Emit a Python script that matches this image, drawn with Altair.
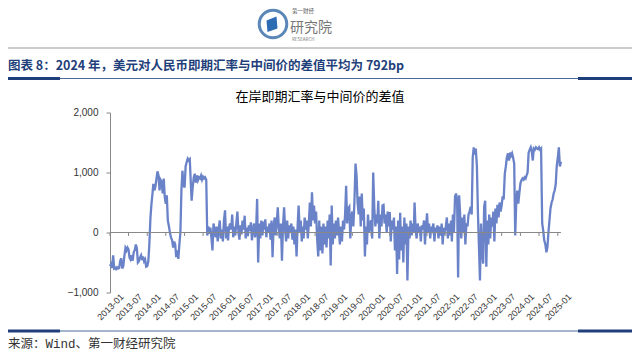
import altair as alt
import pandas as pd

# ---- data (~3 points per month: day 1, 11, 21) ----
v2013 = [-560, -530, -590, -380, -600, -590, -610, -580, -600, -590, -470, -430,
         -600, -560, -400, -260, -300, -250, -280, -420, -450, -380, -470, -330,
         -290, -200, -260, -500, -480, -420, -380, -460, -400, -480, -450, -570]
v2014 = [-560, -480, -200, 250, 480, 650, 810, 700, 760, 900, 1020, 950,
         700, 880, 850, 650, 900, 590, 480, 620, 200, 100, -10, -80,
         -130, -250, -150, -200, -410, -300, -440, -200, 0, 700, 1030, 800]
v2015 = [750, 1100, 1170, 1230, 1200, 1220, 900, 530, 750, 920, 980, 830,
         950, 870, 920, 900, 950, 880, 930, 900, 920, 880, -50, 100,
         -20, 80, -100, -300, 150, 50, -80, 100, -150, 50, 200, -100]
v2016 = [50, -150, 200, 370, -100, 100, -130, 80, 150, 50, 300, -80,
         100, -50, 150, 350, 0, -120, 120, -30, 200, 50, 280, -100,
         80, -60, 120, 30, 170, -130, 60, 150, -80, 50, 560, -500]
v2017 = [150, -100, 200, -50, 180, 50, 220, -80, 100, 0, 150, -120,
         200, -410, 100, 250, -50, 150, 420, 80, -100, 150, -470, 100,
         420, 50, -150, 200, -100, 120, 0, 150, -120, 100, -200, 50]
v2018 = [-400, 100, 450, 0, 200, -150, 100, -100, 250, 50, 200, -100,
         150, 500, 100, 670, 200, 450, 150, 350, -100, -400, 200, -300,
         100, -350, 150, -200, 100, -250, 200, -100, 300, -550, 450, -200]
v2019 = [150, -100, 200, -50, 250, 0, -200, 100, -150, 200, 50, 300,
         780, 150, 400, 430, -100, 250, 350, 100, 500, 1150, 950, 500,
         300, 600, 100, 650, 200, 400, -400, 100, -200, 300, 0, 150]
v2020 = [200, -100, 1000, 400, 100, 300, 150, 530, -100, 300, 100, 450,
         460, 150, 300, 0, 350, 100, 340, -150, 200, 50, 250, -300,
         100, -690, 200, -450, 330, -300, 100, -500, 250, -200, 150, -800]
v2021 = [100, -100, 200, -50, 150, 0, 500, 50, -100, 150, 0, 100,
         -150, 120, 50, 200, -200, 100, 320, 0, 150, -100, 100, 50,
         150, -150, 80, 0, 120, -100, 100, -50, 150, -200, 80, 20]
v2022 = [100, 250, -100, 150, -50, 200, -150, 300, 0, 600, 650, 550,
         -750, 620, 300, -100, 250, 0, 300, -200, 150, 100, 300, 350,
         430, 300, 1250, 1420, 1300, 1400, 1100, 330, -230, -800, 150, -300]
v2023 = [-520, 430, 530, -570, 200, -200, 300, -100, 250, 100, 350, -150,
         400, 150, 460, 250, 500, 350, 450, 600, 550, 980, 1100, 1250,
         1320, 1200, 1330, 1280, 1320, 1250, 1150, -50, 500, 700, 480, 650]
v2024 = [820, 870, 900, 880, 920, 900, 950, 1000, 1330, 1380, 1420, 1350,
         1200, 1400, 1380, 1420, 1400, 1390, 1420, 1380, 1400, 150, 30, -130,
         -200, -330, -250, 0, 200, 400, 500, 550, 650, 700, 800, 1100]
v2025 = [1250, 1420, 1100, 1180]
dates2025 = ["2025-01-01", "2025-01-11", "2025-01-21", "2025-02-01"]

tick_labels = ["2013-01", "2013-07", "2014-01", "2014-07", "2015-01", "2015-07",
               "2016-01", "2016-07", "2017-01", "2017-07", "2018-01", "2018-07",
               "2019-01", "2019-07", "2020-01", "2020-07", "2021-01", "2021-07",
               "2022-01", "2022-07", "2023-01", "2023-07", "2024-01", "2024-07",
               "2025-01"]
y_ticks = [-1000, -500, 0, 500, 1000, 1500, 2000]

page_title = "图表 8：2024 年，美元对人民币即期汇率与中间价的差值平均为 792bp"
chart_title = "在岸即期汇率与中间价的差值"
source_text = "来源：Wind、第一财经研究院"

# ---- build table ----
rows = []
for year, vals in zip(range(2013, 2025),
                      [v2013, v2014, v2015, v2016, v2017, v2018,
                       v2019, v2020, v2021, v2022, v2023, v2024]):
    for i, v in enumerate(vals):
        rows.append({"date": f"{year}-{i // 3 + 1:02d}-{[1, 11, 21][i % 3]:02d}", "value": v})
for d, v in zip(dates2025, v2025):
    rows.append({"date": d, "value": v})
df = pd.DataFrame(rows)
ticks_df = pd.DataFrame({"date": [t + "-01" for t in tick_labels]})

W, H = 451, 180
OX, OY = 110, 112.5  # page position of plot origin
TOTAL_W, TOTAL_H = 624, 345
LINE = "#6a82c8"
NAVY = "#1f3f7a"

xenc = alt.X(
    "date:T",
    scale=alt.Scale(type="utc",
                    domain=[alt.DateTime(year=2013, month=1, date=1, utc=True),
                            alt.DateTime(year=2025, month=2, date=1, utc=True)]),
    axis=alt.Axis(values=[alt.DateTime(year=int(t[:4]), month=int(t[5:]), date=1, utc=True)
                          for t in tick_labels],
                  labelExpr="utcFormat(datum.value, '%Y-%m')",
                  labelAngle=-45, labelAlign="center",
                  labelBaseline="middle", labelPadding=14, labelFontSize=9,
                  labelFont="Liberation Sans", labelColor="#333", labelOverlap=False,
                  labelFlush=False, labelBound=False, domain=False, ticks=False,
                  grid=False, title=None),
)
yenc = alt.Y(
    "value:Q",
    scale=alt.Scale(domain=[-1000, 2000], nice=False, zero=False),
    axis=alt.Axis(values=y_ticks, format=",d", labelFontSize=10, labelFont="Liberation Sans",
                  labelColor="#333", domainColor="#888", tickColor="#888", tickSize=4,
                  labelPadding=8, grid=False, title=None),
)

line = alt.Chart(df).mark_line(color=LINE, strokeWidth=2.3).encode(x=xenc, y=yenc)
zero = alt.Chart(pd.DataFrame({"z": [0]})).mark_rule(color="#888", strokeWidth=1).encode(
    y=alt.datum(0))
tick_marks = alt.Chart(ticks_df).mark_rule(color="#888", strokeWidth=1).encode(
    x=xenc, y=alt.datum(0), y2=alt.value(123.5))


def px(x):
    return x - OX


def py(y):
    return y - OY


def text_layer(txt, x, y, size, color="#000", weight="normal", align="left",
               font="Noto Sans CJK SC"):
    return alt.Chart(pd.DataFrame({"t": [txt]})).mark_text(
        align=align, baseline="middle", fontSize=size, fontWeight=weight, color=color,
        font=font).encode(text="t:N", x=alt.value(px(x)), y=alt.value(py(y)))


def hline(x1, x2, y, color, width):
    return alt.Chart(pd.DataFrame({"a": [0]})).mark_rule(color=color, strokeWidth=width).encode(
        x=alt.value(px(x1)), x2=alt.value(px(x2)), y=alt.value(py(y)))


one = pd.DataFrame({"a": [0]})
logo_ring = alt.Chart(one).mark_point(shape="circle", filled=False, color="#5b86b8",
                                      strokeWidth=3, size=760, opacity=1).encode(
    x=alt.value(px(273)), y=alt.value(py(24)))
logo_book = alt.Chart(one).mark_point(
    shape="M -0.55 -0.35 L 0.45 -0.75 L 0.55 0.45 L -0.45 0.8 Z", filled=True,
    color="#2d6cb3", size=400, opacity=1).encode(x=alt.value(px(272)), y=alt.value(py(24)))

layers = [
    line, zero, tick_marks,
    logo_ring, logo_book,
    text_layer("第一财经", 292, 11, 5.5, "#555"),
    text_layer("研究院", 290, 28, 14, "#777"),
    text_layer("RESEARCH", 292, 40, 4.5, "#777"),
    hline(8, 632, 48, "#999", 1),
    text_layer(page_title, 8, 66, 12.5, NAVY, "bold"),
    hline(8, 632, 78.5, "#4a6a9a", 1),
    hline(8, 60, 78.5, NAVY, 3),
    hline(578, 632, 78.5, NAVY, 3),
    text_layer(chart_title, 320, 97, 13, "#000", align="center"),
    hline(8, 632, 331, "#4a6a9a", 1),
    hline(8, 60, 331, NAVY, 3),
    hline(578, 632, 331, NAVY, 3),
    text_layer(source_text, 8, 344, 12.5, "#333", font="Liberation Mono, Noto Sans CJK SC"),
]

chart = alt.layer(*layers).properties(
    width=W, height=H,
    autosize=alt.AutoSizeParams(type="none"),
    padding={"left": OX - 8, "top": OY - 8, "right": TOTAL_W - (OX - 8) - W,
             "bottom": TOTAL_H - (OY - 8) - H},
    background="white",
).configure_view(stroke=None)

chart.save("out.html", embed_options={"renderer": "svg", "actions": False})
